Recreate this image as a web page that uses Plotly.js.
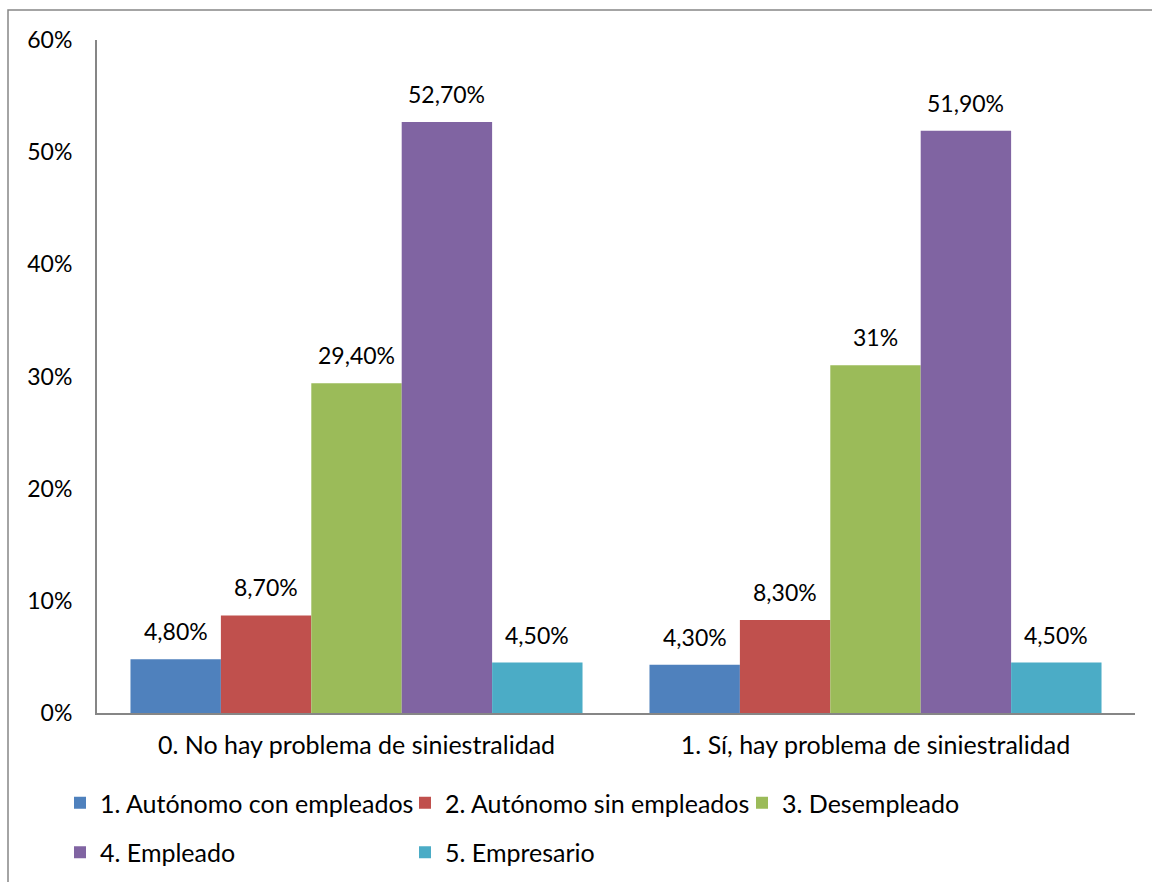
<!DOCTYPE html>
<html>
<head>
<meta charset="utf-8">
<script src="https://cdn.plot.ly/plotly-3.0.1.min.js"></script>
<style>html,body{margin:0;padding:0;background:#fff;}#chart{width:1152px;height:882px;}</style>
</head>
<body>
<div id="chart"></div>
<script>
// ---- data ----
var categories = ["0. No hay problema de siniestralidad", "1. Sí, hay problema de siniestralidad"];
var seriesNames = ["1. Autónomo con empleados", "2. Autónomo sin empleados", "3. Desempleado", "4. Empleado", "5. Empresario"];
var autonomoCon = [4.8, 4.3];
var autonomoSin = [8.7, 8.3];
var desempleado = [29.4, 31];
var empleado = [52.7, 51.9];
var empresario = [4.5, 4.5];
var labelsAutonomoCon = ["4,80%", "4,30%"];
var labelsAutonomoSin = ["8,70%", "8,30%"];
var labelsDesempleado = ["29,40%", "31%"];
var labelsEmpleado = ["52,70%", "51,90%"];
var labelsEmpresario = ["4,50%", "4,50%"];
var yTickVals = [0, 10, 20, 30, 40, 50, 60];
var yTickText = ["0%", "10%", "20%", "30%", "40%", "50%", "60%"];

// ---- styling ----
var colors = ["#4F81BD", "#C0504D", "#9BBB59", "#8064A2", "#4BACC6"];
var legendIds = ["legend", "legend2", "legend3", "legend", "legend2"];
var values = [autonomoCon, autonomoSin, desempleado, empleado, empresario];
var labels = [labelsAutonomoCon, labelsAutonomoSin, labelsDesempleado, labelsEmpleado, labelsEmpresario];
var FONT = "Lato, 'Liberation Sans', sans-serif";
var FS_NUM = 23;
var FS_TXT = 25;
var bargap = 0.129;
var nSeries = values.length;
var barW = (1 - bargap) / nSeries;

var traces = values.map(function (v, j) {
  return {
    type: "bar",
    name: seriesNames[j],
    x: categories,
    y: v,
    marker: {color: colors[j], line: {width: 0}},
    legend: legendIds[j],
    legendgroup: "g" + j,
    hoverinfo: "skip"
  };
});

var annotations = [];
values.forEach(function (v, j) {
  v.forEach(function (val, i) {
    annotations.push({
      xref: "x", yref: "y",
      x: i + (j - (nSeries - 1) / 2) * barW,
      y: val,
      text: labels[j][i],
      showarrow: false,
      yanchor: "middle",
      yshift: 28,
      font: {family: FONT, size: FS_NUM, color: "#000"}
    });
  });
});

var L = 97, R = 17, T = 40, B = 169, W = 1152, H = 882;
var pw = W - L - R, ph = H - T - B;
function px2x(p) { return (p - L) / pw; }
function py2y(p) { return (H - B - p) / ph; }

var legendCommon = {
  orientation: "v",
  xanchor: "left",
  yanchor: "top",
  traceorder: "grouped",
  tracegroupgap: 14,
  bgcolor: "rgba(0,0,0,0)",
  font: {family: FONT, size: FS_TXT, color: "#000"},
  itemclick: false,
  itemdoubleclick: false
};

var layout = {
  width: W, height: H,
  margin: {l: L, r: R, t: T, b: B, pad: 0, autoexpand: false},
  paper_bgcolor: "#fff",
  plot_bgcolor: "#fff",
  font: {family: FONT, size: FS_NUM, color: "#000"},
  barmode: "group",
  bargap: bargap,
  bargroupgap: 0,
  showlegend: true,
  xaxis: {
    type: "category",
    showline: true, linecolor: "#868686", linewidth: 2,
    showgrid: false, zeroline: false, ticks: "",
    ticklabelstandoff: 9,
    tickfont: {family: FONT, size: FS_TXT, color: "#000"},
    fixedrange: true
  },
  yaxis: {
    range: [0, 60],
    tickvals: yTickVals, ticktext: yTickText,
    showline: true, linecolor: "#868686", linewidth: 2,
    showgrid: false, zeroline: false, ticks: "",
    ticklabelstandoff: 18,
    tickfont: {family: FONT, size: FS_NUM, color: "#000"},
    fixedrange: true
  },
  legend: Object.assign({}, legendCommon, {x: px2x(60), y: py2y(780)}),
  legend2: Object.assign({}, legendCommon, {x: px2x(405), y: py2y(780)}),
  legend3: Object.assign({}, legendCommon, {x: px2x(742), y: py2y(780)}),
  annotations: annotations,
  shapes: [{
    type: "rect", xref: "paper", yref: "paper",
    x0: px2x(8), x1: px2x(1170), y0: py2y(900), y1: py2y(10),
    line: {color: "#868686", width: 1.5}, fillcolor: "rgba(0,0,0,0)", layer: "below"
  }]
};

Plotly.newPlot("chart", traces, layout, {displayModeBar: false, staticPlot: true});
</script>
</body>
</html>
